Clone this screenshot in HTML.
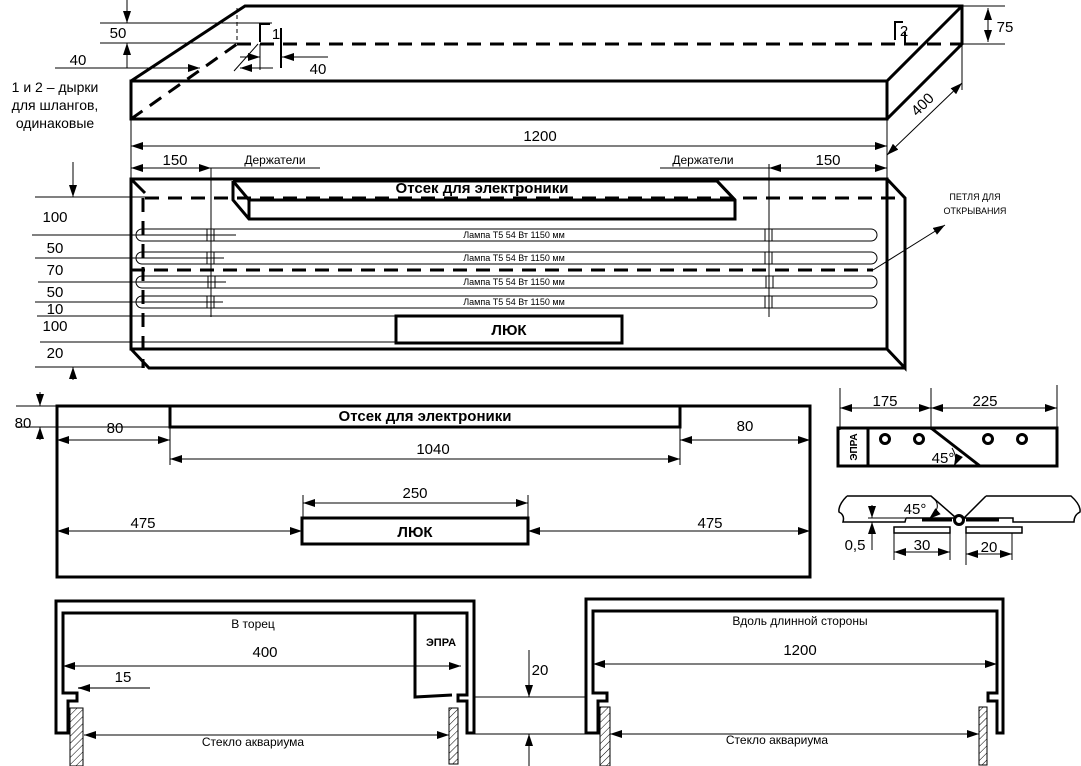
<!DOCTYPE html>
<html><head><meta charset="utf-8"><style>
html,body{margin:0;padding:0;background:#fff;}
svg{display:block;font-family:"Liberation Sans",Arial,sans-serif;}
</style></head><body>
<svg width="1081" height="766" viewBox="0 0 1081 766" xmlns="http://www.w3.org/2000/svg">
<defs>
<marker id="a" viewBox="0 0 12 8" refX="12" refY="4" markerWidth="12" markerHeight="8" markerUnits="userSpaceOnUse" orient="auto-start-reverse"><path d="M0,0 L12,4 L0,8 z" fill="#000"/></marker>
<pattern id="h" width="5" height="5" patternUnits="userSpaceOnUse" patternTransform="rotate(45)"><line x1="0" y1="0" x2="0" y2="5" stroke="#000" stroke-width="1"/></pattern>
</defs>
<g fill="none" stroke="#000">
<g stroke-width="3">
<rect x="131" y="81" width="756" height="38"/>
<polyline points="131,81 245,6 962,6 962,44 887,119"/>
<line x1="887" y1="81" x2="962" y2="6"/>
</g>
<g stroke-width="3" stroke-dasharray="14,9">
<line x1="237" y1="44" x2="962" y2="44"/>
<line x1="131" y1="119" x2="237" y2="44"/>
</g>
<line x1="237" y1="8" x2="237" y2="44" stroke-dasharray="4,3"/>
<polyline points="260,42 260,24 270,24" stroke-width="2"/>
<line x1="281" y1="28" x2="281" y2="68" stroke-width="2"/>
<polyline points="895,40 895,22 903,22" stroke-width="2"/>
<line x1="905" y1="32" x2="905" y2="44" stroke-width="2"/>
<line x1="100" y1="23" x2="272" y2="23"/>
<line x1="100" y1="43" x2="240" y2="43"/>
<line x1="127" y1="0" x2="127" y2="23" marker-end="url(#a)"/>
<line x1="127" y1="68" x2="127" y2="43" marker-end="url(#a)"/>
<line x1="55" y1="68" x2="200" y2="68" marker-end="url(#a)"/>
<line x1="273" y1="68" x2="240" y2="68" marker-end="url(#a)"/>
<line x1="234" y1="71" x2="258" y2="44"/>
<line x1="260" y1="44" x2="260" y2="70"/>
<line x1="328" y1="57" x2="282" y2="57" marker-end="url(#a)"/>
<line x1="240" y1="57" x2="260" y2="57" marker-end="url(#a)"/>
<line x1="131" y1="119" x2="131" y2="157"/>
<line x1="887" y1="119" x2="887" y2="157"/>
<line x1="131" y1="146" x2="887" y2="146" marker-start="url(#a)" marker-end="url(#a)"/>
<line x1="962" y1="44" x2="962" y2="90"/>
<line x1="887" y1="155" x2="962" y2="83" marker-start="url(#a)" marker-end="url(#a)"/>
<line x1="962" y1="6" x2="1005" y2="6"/>
<line x1="962" y1="44" x2="1005" y2="44"/>
<line x1="988" y1="8" x2="988" y2="42" marker-start="url(#a)" marker-end="url(#a)"/>
<g stroke-width="3">
<rect x="131" y="179" width="756" height="170"/>
<polyline points="887,179 905,198 905,368 887,349"/>
<polyline points="131,349 149,368 905,368"/>
<line x1="131" y1="179" x2="145" y2="193"/>
<polyline points="233,181 717,181 735,200 735,219 249,219 233,200 233,181"/>
<line x1="233" y1="181" x2="249" y2="200"/>
<line x1="249" y1="200" x2="735" y2="200"/>
<line x1="249" y1="200" x2="249" y2="219"/>
<line x1="717" y1="181" x2="735" y2="200"/>
<rect x="396" y="316" width="226" height="27"/>
</g>
<g stroke-width="3" stroke-dasharray="14,9">
<line x1="145" y1="198" x2="905" y2="198"/>
<line x1="143" y1="198" x2="143" y2="368"/>
<line x1="131" y1="270" x2="873" y2="270"/>
</g>
<g stroke-width="1">
<rect x="136" y="229" width="741" height="12" rx="6"/>
<rect x="136" y="252" width="741" height="12" rx="6"/>
<rect x="136" y="276" width="741" height="12" rx="6"/>
<rect x="136" y="296" width="741" height="12" rx="6"/>
<rect x="207" y="229" width="7" height="12"/><rect x="207" y="252" width="7" height="12"/>
<rect x="208" y="276" width="7" height="12"/><rect x="207" y="296" width="7" height="12"/>
<rect x="765" y="229" width="7" height="12"/><rect x="765" y="252" width="7" height="12"/>
<rect x="766" y="276" width="7" height="12"/><rect x="765" y="296" width="7" height="12"/>
<line x1="211" y1="168" x2="211" y2="317"/>
<line x1="769" y1="164" x2="769" y2="317"/>
<line x1="211" y1="168" x2="320" y2="168"/>
<line x1="660" y1="168" x2="769" y2="168"/>
<line x1="131" y1="157" x2="131" y2="179"/>
<line x1="887" y1="157" x2="887" y2="179"/>
<line x1="131" y1="168" x2="211" y2="168" marker-start="url(#a)" marker-end="url(#a)"/>
<line x1="769" y1="168" x2="887" y2="168" marker-start="url(#a)" marker-end="url(#a)"/>
<line x1="35" y1="197" x2="145" y2="197"/>
<line x1="32" y1="235" x2="236" y2="235"/>
<line x1="35" y1="258" x2="224" y2="258"/>
<line x1="38" y1="282" x2="226" y2="282"/>
<line x1="35" y1="302" x2="223" y2="302"/>
<line x1="37" y1="316" x2="396" y2="316"/>
<line x1="40" y1="342" x2="396" y2="342"/>
<line x1="35" y1="367" x2="145" y2="367"/>
<line x1="73" y1="162" x2="73" y2="197" marker-end="url(#a)"/>
<line x1="73" y1="380" x2="73" y2="367" marker-end="url(#a)"/>
<line x1="873" y1="270" x2="945" y2="225" marker-end="url(#a)"/>
</g>
<g stroke-width="3">
<rect x="57" y="406" width="753" height="171"/>
<rect x="170" y="406" width="510" height="21"/>
<rect x="302" y="518" width="226" height="26"/>
</g>
<line x1="16" y1="406" x2="57" y2="406"/>
<line x1="16" y1="427" x2="170" y2="427"/>
<line x1="40" y1="392" x2="40" y2="406" marker-end="url(#a)"/>
<line x1="40" y1="440" x2="40" y2="427" marker-end="url(#a)"/>
<line x1="170" y1="427" x2="170" y2="465"/>
<line x1="680" y1="427" x2="680" y2="465"/>
<line x1="57" y1="440" x2="170" y2="440" marker-start="url(#a)" marker-end="url(#a)"/>
<line x1="680" y1="440" x2="810" y2="440" marker-start="url(#a)" marker-end="url(#a)"/>
<line x1="170" y1="459" x2="680" y2="459" marker-start="url(#a)" marker-end="url(#a)"/>
<line x1="303" y1="495" x2="303" y2="518"/>
<line x1="528" y1="495" x2="528" y2="518"/>
<line x1="303" y1="503" x2="528" y2="503" marker-start="url(#a)" marker-end="url(#a)"/>
<line x1="57" y1="531" x2="302" y2="531" marker-start="url(#a)" marker-end="url(#a)"/>
<line x1="528" y1="531" x2="810" y2="531" marker-start="url(#a)" marker-end="url(#a)"/>
<line x1="840" y1="388" x2="840" y2="430"/>
<line x1="931" y1="388" x2="931" y2="430"/>
<line x1="1057" y1="385" x2="1057" y2="430"/>
<line x1="840" y1="408" x2="931" y2="408" marker-start="url(#a)" marker-end="url(#a)"/>
<line x1="931" y1="408" x2="1057" y2="408" marker-start="url(#a)" marker-end="url(#a)"/>
<g stroke-width="3">
<rect x="838" y="428" width="219" height="38"/>
<line x1="868" y1="428" x2="868" y2="466"/>
<line x1="931" y1="428" x2="980" y2="466"/>
<circle cx="885" cy="439" r="4.5"/><circle cx="919" cy="439" r="4.5"/>
<circle cx="988" cy="439" r="4.5"/><circle cx="1022" cy="439" r="4.5"/>
</g>
<path d="M952,448 Q958,458 954,466" marker-end="url(#a)"/>
<g stroke-width="1.5">
<path d="M847,496 L931,496 L955,517 M847,496 Q838,505 839,512 Q845,515 843,522 L905,522 L906,518 L955,518"/>
<path d="M986,496 L1071,496 Q1081,505 1080,512 Q1074,515 1074,522 L1013,522 L1013,518 L964,518 L986,496"/>
<circle cx="959" cy="520" r="4.5" stroke-width="3"/>
<rect x="894" y="527" width="56" height="6"/>
<rect x="966" y="527" width="56" height="6"/>
</g>
<line x1="922" y1="520" x2="952" y2="520" stroke-width="3"/>
<line x1="966" y1="520" x2="999" y2="520" stroke-width="3"/>
<line x1="868" y1="518" x2="905" y2="518"/>
<line x1="872" y1="505" x2="872" y2="518" marker-end="url(#a)"/>
<line x1="872" y1="550" x2="872" y2="522" marker-end="url(#a)"/>
<line x1="894" y1="533" x2="894" y2="560"/><line x1="950" y1="533" x2="950" y2="560"/>
<line x1="966" y1="533" x2="966" y2="565"/><line x1="1012" y1="533" x2="1012" y2="560"/>
<line x1="894" y1="552" x2="950" y2="552" marker-start="url(#a)" marker-end="url(#a)"/>
<line x1="966" y1="554" x2="1012" y2="554" marker-start="url(#a)" marker-end="url(#a)"/>
<path d="M932,497 Q944,506 929,519" marker-end="url(#a)"/>
<g stroke-width="3">
<path d="M56,733 L56,601 L474,601 L474,733 L467,733 L467,701 L458,701 L458,695 L467,695 L467,613 L63,613 L63,693 L77,693 L77,701 L68,701 L68,733 Z"/>
<path d="M415,613 L415,697 L452,695"/>
<path d="M586,733 L586,599 L1003,599 L1003,733 L997,733 L997,701 L988,701 L988,693 L997,693 L997,611 L593,611 L593,693 L607,693 L607,701 L598,701 L598,733 Z"/>
</g>
<rect x="70" y="708" width="13" height="58" fill="url(#h)"/>
<rect x="449" y="708" width="9" height="56" fill="url(#h)"/>
<rect x="600" y="707" width="10" height="59" fill="url(#h)"/>
<rect x="979" y="707" width="8" height="58" fill="url(#h)"/>
<line x1="63" y1="666" x2="461" y2="666" marker-start="url(#a)" marker-end="url(#a)"/>
<line x1="150" y1="688" x2="78" y2="688" stroke="#777" stroke-width="2" marker-end="url(#a)"/>
<line x1="84" y1="735" x2="449" y2="735" marker-start="url(#a)" marker-end="url(#a)"/>
<line x1="593" y1="664" x2="997" y2="664" marker-start="url(#a)" marker-end="url(#a)"/>
<line x1="610" y1="734" x2="979" y2="734" marker-start="url(#a)" marker-end="url(#a)"/>
<line x1="474" y1="697" x2="586" y2="697"/>
<line x1="474" y1="734" x2="586" y2="734"/>
<line x1="529" y1="650" x2="529" y2="697" marker-end="url(#a)"/>
<line x1="529" y1="766" x2="529" y2="734" marker-end="url(#a)"/>
</g>
<g fill="#000" font-size="15" text-anchor="middle">
<text x="118" y="38">50</text>
<text x="78" y="65">40</text>
<text x="318" y="74">40</text>
<text x="276" y="39">1</text>
<text x="904" y="36">2</text>
<text x="1005" y="32">75</text>
<text x="540" y="141">1200</text>
<text x="0" y="0" transform="translate(926,108) rotate(-45)">400</text>
<text x="55" y="92" font-size="14">1 и 2 – дырки</text>
<text x="55" y="110" font-size="14">для шлангов,</text>
<text x="55" y="128" font-size="14">одинаковые</text>
<text x="175" y="165">150</text>
<text x="828" y="165">150</text>
<text x="275" y="164" font-size="12">Держатели</text>
<text x="703" y="164" font-size="12">Держатели</text>
<text x="482" y="193" font-weight="bold">Отсек для электроники</text>
<g font-size="9"><text x="514" y="238">Лампа Т5  54 Вт 1150 мм</text>
<text x="514" y="261">Лампа Т5  54 Вт 1150 мм</text>
<text x="514" y="285">Лампа Т5  54 Вт 1150 мм</text>
<text x="514" y="305">Лампа Т5  54 Вт 1150 мм</text>
<text x="975" y="200">ПЕТЛЯ ДЛЯ</text><text x="975" y="214">ОТКРЫВАНИЯ</text></g>
<text x="509" y="335" font-weight="bold">ЛЮК</text>
<text x="55" y="222">100</text><text x="55" y="253">50</text><text x="55" y="275">70</text>
<text x="55" y="297">50</text><text x="55" y="314">10</text><text x="55" y="331">100</text><text x="55" y="358">20</text>
<text x="23" y="428">80</text>
<text x="115" y="433">80</text>
<text x="745" y="431">80</text>
<text x="433" y="454">1040</text>
<text x="425" y="421" font-weight="bold">Отсек для электроники</text>
<text x="415" y="498">250</text>
<text x="143" y="528">475</text>
<text x="710" y="528">475</text>
<text x="415" y="537" font-weight="bold">ЛЮК</text>
<text x="885" y="406">175</text><text x="985" y="406">225</text>
<text x="0" y="0" font-size="10" font-weight="bold" transform="translate(857,447) rotate(-90)">ЭПРА</text>
<text x="943" y="463">45°</text>
<text x="915" y="514">45°</text>
<text x="855" y="550">0,5</text>
<text x="922" y="550">30</text>
<text x="989" y="552">20</text>
<text x="253" y="628" font-size="12">В торец</text>
<text x="800" y="625" font-size="12">Вдоль длинной стороны</text>
<text x="441" y="646" font-size="11" font-weight="bold">ЭПРА</text>
<text x="265" y="657">400</text>
<text x="800" y="655">1200</text>
<text x="123" y="682">15</text>
<text x="540" y="675">20</text>
<text x="253" y="746" font-size="12">Стекло аквариума</text>
<text x="777" y="744" font-size="12">Стекло аквариума</text>
</g>
</svg>
</body></html>
